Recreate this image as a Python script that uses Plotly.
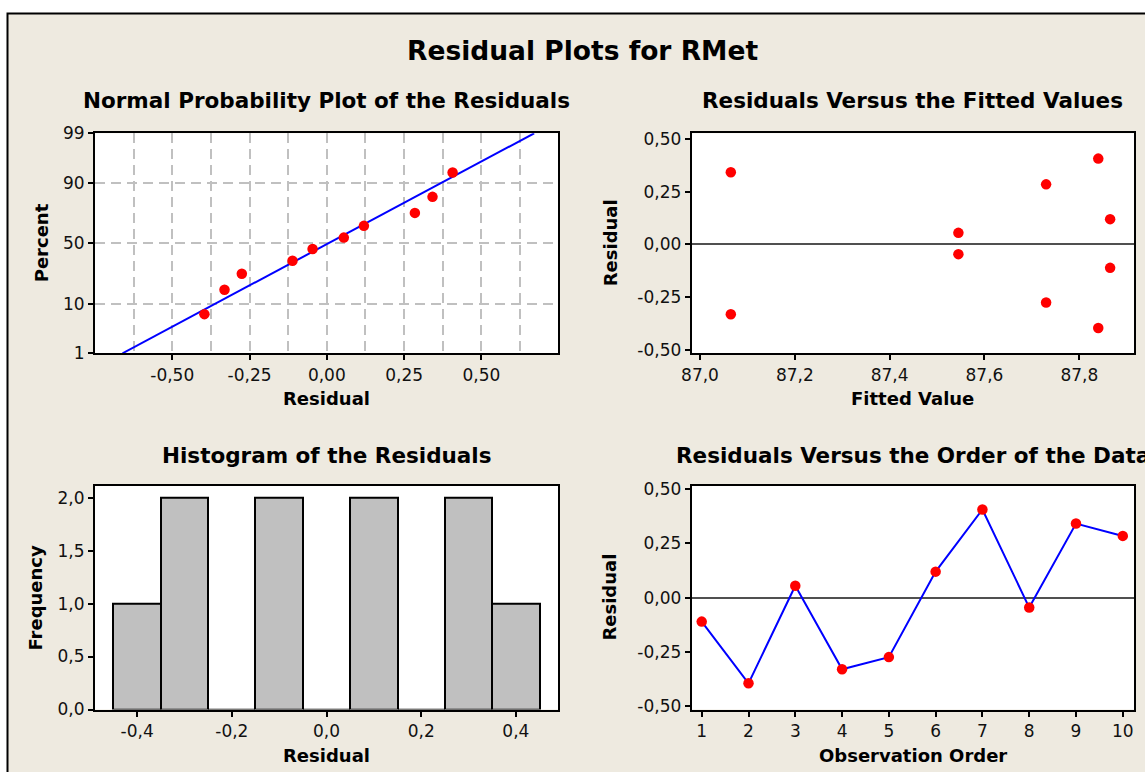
import plotly.graph_objects as go
from statistics import NormalDist, mean, stdev

# ---------------- data ----------------
observation = [1, 2, 3, 4, 5, 6, 7, 8, 9, 10]
residuals = [-0.111, -0.396, 0.055, -0.331, -0.275, 0.120, 0.407, -0.046, 0.342, 0.285]
fitted = [87.865, 87.840, 87.545, 87.065, 87.730, 87.865, 87.840, 87.545, 87.065, 87.730]
prob_percent = [6.7, 16.3, 26.0, 35.6, 45.2, 54.8, 64.4, 74.0, 83.7, 93.3]
hist_centers = [-0.4, -0.3, -0.2, -0.1, 0.0, 0.1, 0.2, 0.3, 0.4]
hist_counts = [1, 2, 0, 2, 0, 2, 0, 2, 1]

pct_ticks = [1, 10, 50, 90, 99]
pct_labels = ["1", "10", "50", "90", "99"]
res_ticks = [-0.5, -0.25, 0.0, 0.25, 0.5]
res_labels = ["-0,50", "-0,25", "0,00", "0,25", "0,50"]
prob_minor = [-0.625, -0.375, -0.125, 0.125, 0.375, 0.625]
fit_ticks = [87.0, 87.2, 87.4, 87.6, 87.8]
fit_labels = ["87,0", "87,2", "87,4", "87,6", "87,8"]
hx_ticks = [-0.4, -0.2, 0.0, 0.2, 0.4]
hx_labels = ["-0,4", "-0,2", "0,0", "0,2", "0,4"]
hy_ticks = [0, 0.5, 1.0, 1.5, 2.0]
hy_labels = ["0,0", "0,5", "1,0", "1,5", "2,0"]
ord_labels = [str(v) for v in observation]

# ---------------- helpers ----------------
W, H = 1145, 772
FONT = "DejaVu Sans"
nd = NormalDist()


def px(x):
    return x / W


def py(y):
    return 1 - y / H


def z(p):
    return nd.inv_cdf(p / 100.0)


sorted_res = sorted(residuals)
m, s = mean(residuals), stdev(residuals)
line_pct = [1, 99]
line_x = [m + s * z(p) for p in line_pct]

RED = "#FF0000"
BLUE = "#0000FF"
BEIGE = "#EEEAE0"

fig = go.Figure()

# Normal probability plot
fig.add_trace(go.Scatter(x=line_x, y=[z(p) for p in line_pct], mode="lines",
                         line=dict(color=BLUE, width=2), xaxis="x", yaxis="y",
                         showlegend=False, hoverinfo="skip"))
fig.add_trace(go.Scatter(x=sorted_res, y=[z(p) for p in prob_percent], mode="markers",
                         marker=dict(color=RED, size=10.5, line=dict(width=0)),
                         xaxis="x", yaxis="y", showlegend=False))
# Residuals vs fitted
fig.add_trace(go.Scatter(x=fitted, y=residuals, mode="markers",
                         marker=dict(color=RED, size=10.5, line=dict(width=0)),
                         xaxis="x2", yaxis="y2", showlegend=False))
# Histogram
fig.add_trace(go.Bar(x=hist_centers, y=hist_counts, width=0.1,
                     marker=dict(color="#C0C0C0", line=dict(color="black", width=2)),
                     xaxis="x3", yaxis="y3", showlegend=False))
# Residuals vs order
fig.add_trace(go.Scatter(x=observation, y=residuals, mode="lines+markers",
                         line=dict(color=BLUE, width=2),
                         marker=dict(color=RED, size=10.5, line=dict(width=0)),
                         xaxis="x4", yaxis="y4", showlegend=False))

left_dom = [px(95), px(558)]
right_dom = [px(691.7), px(1134.3)]
top_dom = [py(353.3), py(133.3)]
bot_dom = [py(709.5), py(485.7)]

tickfont = dict(family=FONT, size=17, color="#111111")
axis_common = dict(showline=True, mirror=True, linecolor="black", linewidth=2,
                   ticks="outside", ticklen=5, tickwidth=2, tickcolor="black",
                   tickfont=tickfont, zeroline=False, showgrid=False,
                   fixedrange=True, automargin=False)
GRID = dict(gridcolor="#C0C0C0", gridwidth=2, griddash="10px,6px")

layout = dict(
    template="none",
    width=W, height=H, autosize=False,
    margin=dict(l=0, r=0, t=0, b=0, pad=0, autoexpand=False),
    paper_bgcolor="white", plot_bgcolor="white",
    showlegend=False, bargap=0,
    font=dict(family=FONT, color="black"),
    xaxis=dict(domain=left_dom, anchor="y", range=[-0.75, 0.748],
               tickvals=res_ticks, ticktext=res_labels, showgrid=True, **GRID,
               minor=dict(tickvals=prob_minor, showgrid=True, ticks="", **GRID),
               **{k: v for k, v in axis_common.items() if k != "showgrid"}),
    yaxis=dict(domain=top_dom, anchor="x", range=[z(1), z(99)],
               tickvals=[z(p) for p in pct_ticks], ticktext=pct_labels,
               showgrid=True, **GRID,
               **{k: v for k, v in axis_common.items() if k != "showgrid"}),
    xaxis2=dict(domain=right_dom, anchor="y2", range=[86.9825, 87.916],
                tickvals=fit_ticks, ticktext=fit_labels, **axis_common),
    yaxis2=dict(domain=top_dom, anchor="x2", range=[-0.516, 0.527],
                tickvals=res_ticks, ticktext=res_labels,
                **{k: v for k, v in axis_common.items() if k != "zeroline"},
                zeroline=True, zerolinecolor="#505050", zerolinewidth=2),
    xaxis3=dict(domain=left_dom, anchor="y3", range=[-0.489, 0.489],
                tickvals=hx_ticks, ticktext=hx_labels, **axis_common),
    yaxis3=dict(domain=bot_dom, anchor="x3", range=[0, 2.113],
                tickvals=hy_ticks, ticktext=hy_labels, **axis_common),
    xaxis4=dict(domain=right_dom, anchor="y4", range=[0.786, 10.246],
                tickvals=observation, ticktext=ord_labels, **axis_common),
    yaxis4=dict(domain=bot_dom, anchor="x4", range=[-0.517, 0.517],
                tickvals=res_ticks, ticktext=res_labels,
                **{k: v for k, v in axis_common.items() if k != "zeroline"},
                zeroline=True, zerolinecolor="#505050", zerolinewidth=2),
)
fig.update_layout(**layout)

# outer beige panel with black frame, white plot areas on top of it
shapes = [
    dict(type="rect", xref="paper", yref="paper", x0=px(7.5), x1=1.05, y0=-0.05, y1=py(13.5),
         fillcolor=BEIGE, line=dict(color="black", width=2), layer="below"),
]
for xa in ["x", "x2", "x3", "x4"]:
    ya = xa.replace("x", "y")
    shapes.append(dict(type="rect", xref=xa + " domain", yref=ya + " domain",
                       x0=0, x1=1, y0=0, y1=1, fillcolor="white",
                       line=dict(width=0), layer="below"))
fig.update_layout(shapes=shapes)

ann = []


def add_text(text, x, y, size, bold=True, angle=0):
    ann.append(dict(text=("<b>%s</b>" % text) if bold else text, x=px(x), y=py(y),
                    xref="paper", yref="paper", xanchor="center", yanchor="middle",
                    showarrow=False, textangle=angle,
                    font=dict(family=FONT, size=size, color="black")))


add_text("Residual Plots for RMet", 582, 50, 26.5)
add_text("Normal Probability Plot of the Residuals", 326.5, 100, 21.5)
add_text("Residuals Versus the Fitted Values", 913, 100, 21.5)
add_text("Histogram of the Residuals", 326.5, 455, 21.5)
add_text("Residuals Versus the Order of the Data", 913, 455, 21.5)
add_text("Residual", 326.5, 399, 18)
add_text("Fitted Value", 913, 399, 18)
add_text("Residual", 326.5, 755, 18)
add_text("Observation Order", 913, 755, 18)
add_text("Percent", 41, 243.3, 18, angle=-90)
add_text("Residual", 610, 243.3, 18, angle=-90)
add_text("Frequency", 36, 597.6, 18, angle=-90)
add_text("Residual", 610, 597.6, 18, angle=-90)
fig.update_layout(annotations=ann)

fig.write_html(
    "out.html",
    config={"displayModeBar": False, "responsive": False},
    post_script="document.body.style.margin='0';document.body.style.overflow='hidden';",
)
